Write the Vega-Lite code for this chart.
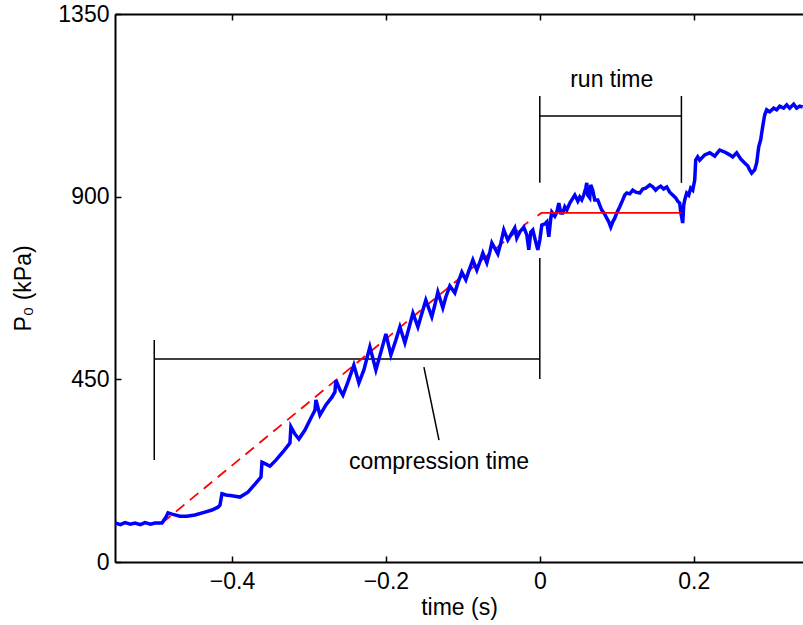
{
  "$schema": "https://vega.github.io/schema/vega-lite/v6.json",
  "width": 688,
  "height": 548,
  "autosize": "none",
  "padding": {"left": 115, "top": 14, "right": 0, "bottom": 63},
  "background": "white",
  "config": {
    "view": {"stroke": null},
    "font": "Liberation Sans",
    "axis": {
      "domainColor": "black", "domainWidth": 2,
      "tickColor": "black", "tickWidth": 1.5, "tickSize": -6,
      "labelFontSize": 23, "labelColor": "black", "labelFont": "Liberation Sans", "labelFlush": false, "labelOverlap": false,
      "titleFontSize": 23, "titleFontWeight": "normal", "titleColor": "black", "titleFont": "Liberation Sans",
      "grid": false
    }
  },
  "datasets": {
    "trace": [
      {"t": -0.5519, "p": 96}, {"t": -0.545, "p": 92}, {"t": -0.539, "p": 97}, {"t": -0.532, "p": 93}, {"t": -0.526, "p": 96}, {"t": -0.519, "p": 92}, {"t": -0.513, "p": 97}, {"t": -0.506, "p": 93}, {"t": -0.5, "p": 96}, {"t": -0.4909, "p": 96},
      {"t": -0.4857, "p": 111}, {"t": -0.4831, "p": 121}, {"t": -0.4779, "p": 118}, {"t": -0.4675, "p": 113}, {"t": -0.4584, "p": 113}, {"t": -0.4481, "p": 116},
      {"t": -0.4351, "p": 123}, {"t": -0.426, "p": 128}, {"t": -0.4182, "p": 135}, {"t": -0.4156, "p": 140}, {"t": -0.413, "p": 168}, {"t": -0.4078, "p": 165},
      {"t": -0.4, "p": 163}, {"t": -0.3896, "p": 160}, {"t": -0.3792, "p": 172}, {"t": -0.3701, "p": 192}, {"t": -0.3623, "p": 209}, {"t": -0.361, "p": 246},
      {"t": -0.3558, "p": 241}, {"t": -0.3506, "p": 236}, {"t": -0.3429, "p": 251}, {"t": -0.3338, "p": 271}, {"t": -0.3247, "p": 293}, {"t": -0.3234, "p": 333},
      {"t": -0.3182, "p": 315}, {"t": -0.313, "p": 303}, {"t": -0.3052, "p": 325}, {"t": -0.2987, "p": 350}, {"t": -0.2922, "p": 374}, {"t": -0.2909, "p": 399},
      {"t": -0.2857, "p": 362}, {"t": -0.2779, "p": 387}, {"t": -0.2701, "p": 406}, {"t": -0.2662, "p": 419}, {"t": -0.2649, "p": 448}, {"t": -0.2597, "p": 424},
      {"t": -0.2558, "p": 411}, {"t": -0.2494, "p": 443}, {"t": -0.2416, "p": 485}, {"t": -0.2351, "p": 441}, {"t": -0.2286, "p": 473}, {"t": -0.2208, "p": 530},
      {"t": -0.213, "p": 473}, {"t": -0.2065, "p": 517}, {"t": -0.2, "p": 562}, {"t": -0.1935, "p": 510}, {"t": -0.187, "p": 547}, {"t": -0.1818, "p": 579},
      {"t": -0.1753, "p": 540}, {"t": -0.1701, "p": 576}, {"t": -0.1649, "p": 613}, {"t": -0.1584, "p": 579}, {"t": -0.1532, "p": 613}, {"t": -0.1481, "p": 645},
      {"t": -0.1403, "p": 604}, {"t": -0.1364, "p": 633}, {"t": -0.1325, "p": 665}, {"t": -0.126, "p": 626}, {"t": -0.1221, "p": 653}, {"t": -0.1169, "p": 680},
      {"t": -0.1104, "p": 663}, {"t": -0.1065, "p": 687}, {"t": -0.1013, "p": 714}, {"t": -0.0961, "p": 695}, {"t": -0.0922, "p": 717}, {"t": -0.087, "p": 744},
      {"t": -0.0818, "p": 719}, {"t": -0.0779, "p": 739}, {"t": -0.074, "p": 761}, {"t": -0.0688, "p": 737}, {"t": -0.0649, "p": 764}, {"t": -0.0623, "p": 786},
      {"t": -0.0545, "p": 759}, {"t": -0.0506, "p": 786}, {"t": -0.0468, "p": 818}, {"t": -0.0416, "p": 793}, {"t": -0.0364, "p": 810}, {"t": -0.0325, "p": 823},
      {"t": -0.0299, "p": 798}, {"t": -0.026, "p": 813}, {"t": -0.0208, "p": 825}, {"t": -0.0169, "p": 806}, {"t": -0.0143, "p": 769}, {"t": -0.0117, "p": 813},
      {"t": -0.0091, "p": 818}, {"t": -0.0065, "p": 798}, {"t": -0.0026, "p": 769}, {"t": 0.0, "p": 793}, {"t": 0.0026, "p": 830}, {"t": 0.0065, "p": 833},
      {"t": 0.0091, "p": 838}, {"t": 0.0117, "p": 801}, {"t": 0.0143, "p": 847}, {"t": 0.0156, "p": 862}, {"t": 0.0195, "p": 852}, {"t": 0.0221, "p": 862},
      {"t": 0.0247, "p": 884}, {"t": 0.0273, "p": 860}, {"t": 0.0299, "p": 860}, {"t": 0.0325, "p": 875}, {"t": 0.0351, "p": 867}, {"t": 0.039, "p": 884},
      {"t": 0.0416, "p": 892}, {"t": 0.0455, "p": 904}, {"t": 0.0494, "p": 889}, {"t": 0.0519, "p": 899}, {"t": 0.0545, "p": 892}, {"t": 0.0571, "p": 904},
      {"t": 0.0597, "p": 921}, {"t": 0.061, "p": 934}, {"t": 0.0623, "p": 904}, {"t": 0.0649, "p": 897}, {"t": 0.0662, "p": 929}, {"t": 0.0688, "p": 916},
      {"t": 0.0714, "p": 892}, {"t": 0.0753, "p": 892}, {"t": 0.0779, "p": 879}, {"t": 0.0805, "p": 867}, {"t": 0.0844, "p": 857}, {"t": 0.087, "p": 847},
      {"t": 0.0896, "p": 838}, {"t": 0.0922, "p": 825}, {"t": 0.0948, "p": 838}, {"t": 0.0974, "p": 847}, {"t": 0.1, "p": 860}, {"t": 0.1039, "p": 875},
      {"t": 0.1078, "p": 892}, {"t": 0.1104, "p": 904}, {"t": 0.113, "p": 909}, {"t": 0.1169, "p": 907}, {"t": 0.1208, "p": 916}, {"t": 0.1247, "p": 911},
      {"t": 0.1299, "p": 909}, {"t": 0.1338, "p": 919}, {"t": 0.1377, "p": 921}, {"t": 0.1429, "p": 929}, {"t": 0.1468, "p": 924}, {"t": 0.1506, "p": 916},
      {"t": 0.1532, "p": 921}, {"t": 0.1571, "p": 926}, {"t": 0.161, "p": 919}, {"t": 0.1649, "p": 924}, {"t": 0.1688, "p": 911}, {"t": 0.1727, "p": 904},
      {"t": 0.1766, "p": 897}, {"t": 0.1792, "p": 889}, {"t": 0.1818, "p": 884}, {"t": 0.1831, "p": 862}, {"t": 0.1857, "p": 835}, {"t": 0.187, "p": 879},
      {"t": 0.1883, "p": 892}, {"t": 0.1909, "p": 909}, {"t": 0.1935, "p": 904}, {"t": 0.1961, "p": 921}, {"t": 0.1987, "p": 916}, {"t": 0.2013, "p": 941},
      {"t": 0.2026, "p": 990}, {"t": 0.2052, "p": 998}, {"t": 0.2078, "p": 990}, {"t": 0.2143, "p": 1003}, {"t": 0.2208, "p": 1008}, {"t": 0.2273, "p": 1000},
      {"t": 0.2338, "p": 1015}, {"t": 0.2403, "p": 1010}, {"t": 0.2468, "p": 1003}, {"t": 0.2506, "p": 998}, {"t": 0.2558, "p": 1008}, {"t": 0.261, "p": 993},
      {"t": 0.2662, "p": 983}, {"t": 0.2701, "p": 976}, {"t": 0.2727, "p": 966}, {"t": 0.2753, "p": 958}, {"t": 0.2792, "p": 966}, {"t": 0.2818, "p": 983},
      {"t": 0.2844, "p": 1022}, {"t": 0.287, "p": 1040}, {"t": 0.2896, "p": 1072}, {"t": 0.2922, "p": 1101}, {"t": 0.2948, "p": 1114}, {"t": 0.2987, "p": 1109},
      {"t": 0.3039, "p": 1118}, {"t": 0.3078, "p": 1114}, {"t": 0.3117, "p": 1123}, {"t": 0.3169, "p": 1118}, {"t": 0.3208, "p": 1126}, {"t": 0.3247, "p": 1118},
      {"t": 0.3299, "p": 1128}, {"t": 0.3338, "p": 1118}, {"t": 0.3377, "p": 1123}, {"t": 0.3416, "p": 1121}
    ],
    "ramp": [
      {"t": -0.4909, "p": 96}, {"t": -0.015, "p": 838}
    ],
    "plateau": [
      {"t": -0.003, "p": 853}, {"t": 0.002, "p": 860}, {"t": 0.184, "p": 860}
    ],
    "brackets": [
      {"t": -0.501, "t2": -0.501, "p": 547, "p2": 251},
      {"t": -0.501, "t2": 0, "p": 500, "p2": 500},
      {"t": 0, "t2": 0, "p": 749, "p2": 451},
      {"t": 0, "t2": 0, "p": 1148, "p2": 934},
      {"t": 0, "t2": 0.184, "p": 1099, "p2": 1099},
      {"t": 0.184, "t2": 0.184, "p": 1148, "p2": 934},
      {"t": -0.1506, "t2": -0.131, "p": 480, "p2": 300}
    ],
    "notes": [
      {"t": 0.0935, "p": 1170, "label": "run time"},
      {"t": -0.131, "p": 229, "label": "compression time"}
    ]
  },
  "layer": [
    {
      "layer": [
        {
          "data": {"name": "brackets"},
          "mark": {"type": "rule", "color": "black", "strokeWidth": 1.5},
          "encoding": {
            "x": {"field": "t", "type": "quantitative", "title": "time (s)"},
            "x2": {"field": "t2"},
            "y": {"field": "p", "type": "quantitative", "title": "P₀ (kPa)"},
            "y2": {"field": "p2"}
          }
        },
        {
          "data": {"name": "ramp"},
          "mark": {"type": "line", "color": "#ff0000", "strokeWidth": 1.8, "strokeDash": [11, 7]},
          "encoding": {
            "x": {"field": "t", "type": "quantitative", "title": "time (s)"},
            "y": {"field": "p", "type": "quantitative", "title": "P₀ (kPa)"}
          }
        },
        {
          "data": {"name": "trace"},
          "mark": {"type": "line", "color": "#0000ff", "strokeWidth": 3.5, "clip": true},
          "encoding": {
            "x": {
              "field": "t", "type": "quantitative", "title": "time (s)",
              "scale": {"domain": [-0.552, 0.342], "nice": false, "zero": false},
              "axis": {"values": [-0.4, -0.2, 0, 0.2], "format": ".1~f", "labelPadding": 14, "titlePadding": 3}
            },
            "y": {
              "field": "p", "type": "quantitative", "title": "P₀ (kPa)",
              "scale": {"domain": [0, 1350], "nice": false},
              "axis": {"values": [0, 450, 900, 1350], "format": "d", "labelPadding": 12, "titlePadding": 22}
            }
          }
        },
        {
          "data": {"name": "plateau"},
          "mark": {"type": "line", "color": "#ff0000", "strokeWidth": 1.8},
          "encoding": {
            "x": {"field": "t", "type": "quantitative", "title": "time (s)"},
            "y": {"field": "p", "type": "quantitative", "title": "P₀ (kPa)"}
          }
        },
        {
          "data": {"name": "notes"},
          "mark": {"type": "text", "fontSize": 23, "font": "Liberation Sans", "color": "black", "align": "center", "baseline": "alphabetic"},
          "encoding": {
            "x": {"field": "t", "type": "quantitative", "title": "time (s)"},
            "y": {"field": "p", "type": "quantitative", "title": "P₀ (kPa)"},
            "text": {"field": "label"}
          }
        }
      ]
    },
    {
      "data": {"name": "notes"},
      "mark": {"type": "point", "opacity": 0},
      "encoding": {
        "x": {
          "field": "t", "type": "quantitative",
          "scale": {"domain": [-0.552, 0.342], "nice": false, "zero": false},
          "axis": {"orient": "top", "values": [-0.4, -0.2, 0, 0.2], "labels": false, "title": null}
        }
      }
    }
  ],
  "resolve": {"axis": {"x": "independent"}}
}
